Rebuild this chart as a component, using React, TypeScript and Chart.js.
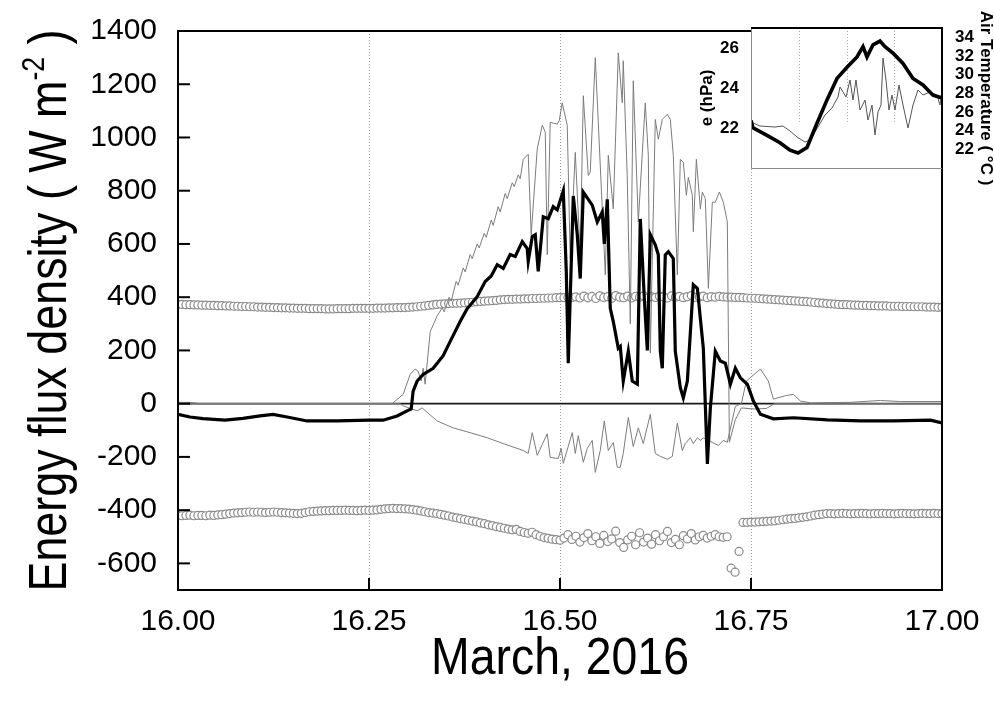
import { useEffect, useRef } from 'react';
import { Chart, registerables } from 'chart.js';

Chart.register(...registerables);

const FONT = '"Liberation Sans", Arial, Helvetica, sans-serif';

// ---------------- main panel data (day of March 2016, W m-2) ----------------
const yTicks = [-600, -400, -200, 0, 200, 400, 600, 800, 1000, 1200, 1400];
const xTicks = [16, 16.25, 16.5, 16.75, 17];
const vGrid = [16.25, 16.5, 16.75];

// thick black line
const hTime = [
  16.0, 16.0157, 16.0327, 16.0616, 16.0851, 16.1074, 16.1244, 16.1428, 16.169, 16.2082,
  16.2515, 16.2685, 16.2868, 16.2999, 16.3052, 16.3078, 16.313, 16.3209, 16.334, 16.3471,
  16.3563, 16.3693, 16.3785, 16.3916, 16.4021, 16.41, 16.4178, 16.4257, 16.4348, 16.4414,
  16.4506, 16.4571, 16.4584, 16.4637, 16.4676, 16.4715, 16.4781, 16.4846, 16.4912, 16.4964,
  16.5043, 16.5082, 16.5108, 16.5174, 16.5226, 16.5265, 16.5305, 16.5422, 16.5488, 16.5553,
  16.558, 16.5619, 16.5658, 16.5697, 16.5763, 16.5789, 16.5828, 16.5894, 16.5946, 16.6012,
  16.6051, 16.6103, 16.6143, 16.6182, 16.6247, 16.6287, 16.6313, 16.6339, 16.6378, 16.6418,
  16.6483, 16.6509, 16.6575, 16.6614, 16.6667, 16.6745, 16.6798, 16.6876, 16.6929, 16.6968,
  16.7033, 16.7099, 16.7164, 16.723, 16.7295, 16.7361, 16.7452, 16.7531, 16.7623, 16.7793,
  16.8055, 16.85, 16.8933, 16.9365, 16.9849, 17.0,
];
const hFlux = [
  -40, -50, -56, -62, -55, -46, -40, -50, -65, -65,
  -62, -62, -46, -27, -20, 47, 85, 110, 133, 180,
  234, 309, 357, 402, 459, 480, 522, 508, 560, 553,
  609, 583, 534, 628, 635, 497, 702, 695, 740, 728,
  800, 500, 152, 780, 635, 470, 795, 746, 683, 720,
  600, 768, 358, 309, 208, 215, 85, 197, 85, 73,
  694, 400, 200, 635, 597, 559, 197, 133, 559, 571,
  545, 197, 60, 22, 85, 447, 433, 208, -226, -16,
  197, 160, 152, 73, 133, 97, 73, 10, -40, -57,
  -53, -61, -65, -65, -62, -72,
];

// thin grey line, positive by day
const rnTime = [
  16.0, 16.0157, 16.0288, 16.2803, 16.2947, 16.3039, 16.3104, 16.3143, 16.3183, 16.3209,
  16.3235, 16.3301, 16.3392, 16.3458, 16.3484, 16.3549, 16.3576, 16.3641, 16.3667, 16.3733,
  16.3759, 16.3824, 16.3851, 16.3916, 16.3942, 16.4008, 16.4034, 16.41, 16.4126, 16.4191,
  16.4217, 16.4283, 16.4309, 16.4375, 16.4401, 16.4453, 16.4479,
  16.4519, 16.4584, 16.4623, 16.4702, 16.4768, 16.4807, 16.4833, 16.4872, 16.4964, 16.499,
  16.5029, 16.5095, 16.5134, 16.52, 16.5265, 16.5305, 16.537, 16.5396, 16.5462, 16.5501,
  16.5593, 16.5632, 16.5697, 16.5763, 16.5815, 16.5828, 16.588, 16.592, 16.5959, 16.6025,
  16.6116, 16.6156, 16.6182, 16.6247, 16.6287, 16.6339, 16.6405, 16.6444, 16.6483, 16.6536,
  16.6575, 16.6614, 16.6654, 16.668, 16.6732, 16.6745, 16.6785, 16.6837, 16.6863, 16.6902,
  16.6942, 16.6994, 16.7033, 16.7086, 16.7138, 16.719, 16.7217, 16.7295, 16.7374, 16.7544,
  16.7701, 16.7806, 17.0,
];
const rnFlux = [
  5, 5, 0, 0, 35, 110, 130, 122, 85, 133,
  73, 270, 330, 360, 345, 400, 385, 460, 445, 510,
  495, 560, 545, 600, 585, 640, 625, 690, 670, 740,
  720, 790, 770, 830, 815, 860, 845,
  918, 937, 635, 957, 1046, 1020, 560, 1057, 1050, 1063,
  1130, 1046, 545, 944, 560, 1157, 857, 870, 1300, 1057,
  484, 933, 732, 1318, 1130, 1288, 857, 300, 1213, 683,
  1130, 933, 190, 1068, 993, 1068, 1087, 1068, 933, 484,
  918, 907, 783, 850, 783, 646, 918, 732, 795, 770,
  433, 757, 757, 795, 757, 683, -145, -60, -16, -20,
  -18, 0, 0,
];

// thin grey line, negative by day
const gTime = [
  16.0, 16.2908, 16.2947, 16.313, 16.3196, 16.3392, 16.3602, 16.3824, 16.4047, 16.4257,
  16.4519, 16.4584, 16.4637, 16.4702, 16.4833, 16.4872, 16.4977, 16.5016, 16.5043, 16.516,
  16.52, 16.5239, 16.5305, 16.5357, 16.5422, 16.5462, 16.5527, 16.558, 16.5632, 16.5697,
  16.575, 16.5789, 16.5828, 16.5894, 16.5959, 16.6025, 16.609, 16.6182, 16.6247, 16.6313,
  16.6405, 16.647, 16.6536, 16.6601, 16.664, 16.6706, 16.6745, 16.6798, 16.6837, 16.6876,
  16.6994, 16.7073, 16.7138, 16.719, 16.7295, 16.7374, 16.7439, 16.7623, 16.7727, 16.7793,
  16.795, 16.8055, 16.8147, 16.8278, 16.8802, 16.9194, 16.9456, 17.0,
];
const gFlux = [
  0, 0, -8, -27, -16, -65, -91, -109, -128, -150,
  -176, -187, -109, -194, -113, -202, -206, -168, -224, -109,
  -187, -120, -220, -168, -138, -258, -176, -65, -176, -146,
  -239, -239, -187, -52, -161, -91, -150, -40, -187, -198,
  -209, -198, -73, -176, -150, -128, -150, -128, -138, -128,
  -146, -157, -138, -145, -10, 0, 85, 130, 85, 17,
  30, 35, 10, 3, 5, 12, 8, 8,
];

// open circles, one value every 7.5 min from 16.00 to 17.00
const circleStart = 16;
const circleStep = 1 / 192;
const lwUpper = [
  373, 373, 372, 372, 371, 371, 370, 370, 369, 369, 368, 368, 367, 367, 366, 366,
  365, 365, 364, 364, 363, 363, 362, 362, 361, 361, 360, 360, 359, 359, 358, 358,
  358, 357, 357, 357, 357, 356, 356, 356, 357, 357, 357, 357, 358, 358, 358, 358, 358,
  358, 359, 359, 359, 360, 360, 361, 361, 361,
  362, 363, 364, 366, 367, 369, 371, 373,
  374, 375, 376, 377, 377, 378, 379, 380,
  381, 383, 384, 385, 386, 387, 388, 390, 391,
  392, 392, 393, 393, 394, 394, 395, 395,
  396, 396, 397, 397, 398, 398, 398, 399, 399,
  401, 397, 404, 398, 403, 395, 405, 399, 402, 396, 406, 400, 398, 404, 397, 403, 400, 405, 396,
  402, 399, 404, 401, 397, 405, 400, 403, 398, 402, 406, 399, 401, 404, 398, 402, 400, 403, 401,
  400, 400, 399, 399, 398, 397, 396, 396, 395,
  394, 393, 392, 391, 390, 389, 388, 387, 386, 385, 384, 383, 382, 380, 379, 378, 376,
  375, 374, 373, 372, 372, 371, 370, 370, 369, 369, 368, 368, 367, 367, 367, 366, 366,
  366, 365, 365, 365, 364, 364, 364, 363, 363, 363, 362, 362,
];
const lwLower = [
  -420, -421, -420, -419, -421, -420, -420, -421, -419, -420, -418, -417, -415, -413, -411,
  -410, -409, -408, -407, -408, -407, -408, -409, -408, -407, -408, -409, -410, -411, -412,
  -413, -412, -409, -406, -405, -404, -403, -402, -402, -401,
  -401, -401, -400, -401, -401, -402, -401, -400, -401, -400, -399, -397,
  -395, -394, -393, -394, -394, -395, -396, -398, -400, -403, -406, -409, -411,
  -413, -416, -419, -422, -426, -429, -432, -435,
  -438, -441, -444, -448, -451, -455, -458, -462, -465,
  -468, -471, -474, -472, -480, -484, -487, -483, -492, -498, -503, -506, -509, -511, -513,
  -505, -492, -510, -498, -520, -503, -488, -515, -500, -525, -495, -518, -508, -479,
  -522, -540, -512, -498, -530, -485, -520, -505, -528, -492, -515, -500, -480, -522,
  -510, -530, -496, -508, -488, -512, -500, -495, -505, -498, -492, -500, -502, -500,
  -618, -633, -555,
  -446, -446, -445, -445, -444, -443, -442, -441, -440, -438, -436, -434, -432,
  -431, -429, -427, -425, -422, -419, -417, -415,
  -413, -413, -414, -413, -412, -413, -414, -413, -413, -412, -413, -414, -413, -413, -412,
  -413, -413, -414, -413, -412, -413, -413, -414, -413, -412, -413, -413, -412, -413, -413,
];

// ---------------- inset data ----------------
const insetETicks = [22, 24, 26];
const insetTTicks = [22, 24, 26, 28, 30, 32, 34];
const taTime = [
  16.0, 16.0105, 16.0838, 16.1518, 16.2042, 16.2461, 16.2932, 16.3455, 16.3979, 16.4503,
  16.5026, 16.555, 16.5864, 16.6073, 16.6387, 16.6754, 16.7016, 16.7435, 16.7958, 16.8482,
  16.9005, 16.9529, 17.0,
];
const taVal = [
  25.1, 24.3, 23.5, 22.7, 21.9, 21.6, 22.2, 24.8, 27.3, 29.6,
  30.8, 31.9, 33.0, 31.9, 33.2, 33.6, 33.0, 32.3, 31.2, 29.6,
  28.9, 27.8, 27.5,
];
const eTime = [
  16.0, 16.0471, 16.1257, 16.1675, 16.2042, 16.2408, 16.2827, 16.3089, 16.3508, 16.3874,
  16.4241, 16.4555, 16.466, 16.4817, 16.4974, 16.5183, 16.534, 16.5497, 16.5707, 16.5969,
  16.6126, 16.6335, 16.6492, 16.6649, 16.6806, 16.6911, 16.7068, 16.7225, 16.7382, 16.7539,
  16.7749, 16.7958, 16.822, 16.8482, 16.8743, 16.9005, 16.9372, 16.9738, 16.9895, 17.0,
];
const eVal = [
  22.3, 22.1, 22.05, 22.1, 21.85, 21.55, 21.3, 21.4, 22.05, 22.65,
  23.0, 23.55, 24.05, 23.8, 23.55, 24.4, 23.4, 24.4, 22.9, 23.4,
  22.4, 23.15, 21.65, 22.8, 23.15, 25.5, 24.4, 22.9, 23.65, 22.9,
  24.15, 23.15, 22.0, 23.15, 23.9, 23.65, 23.8, 23.65, 23.15, 23.8,
];

const zip = (xs: number[], ys: number[]) => xs.map((x, i) => ({ x, y: ys[i] }));
const circles = (ys: number[]) => ys.map((y, i) => ({ x: circleStart + i * circleStep, y }));

const mainDecor = {
  id: 'mainDecor',
  beforeDatasetsDraw(chart: any) {
    const { ctx, chartArea: a, scales } = chart;
    const x = scales.x, y = scales.y;
    ctx.save();
    ctx.strokeStyle = '#9c9c9c';
    ctx.lineWidth = 1;
    ctx.setLineDash([1, 2]);
    for (const v of vGrid) {
      const px = Math.round(x.getPixelForValue(v)) + 0.5;
      ctx.beginPath(); ctx.moveTo(px, a.top); ctx.lineTo(px, a.bottom); ctx.stroke();
    }
    ctx.setLineDash([]);
    const zy = y.getPixelForValue(0);
    ctx.strokeStyle = '#1a1a1a';
    ctx.lineWidth = 1.6;
    ctx.beginPath(); ctx.moveTo(a.left, zy); ctx.lineTo(a.right, zy); ctx.stroke();
    ctx.restore();
  },
  afterDatasetsDraw(chart: any) {
    const { ctx, chartArea: a, scales } = chart;
    const x = scales.x, y = scales.y;
    ctx.save();
    ctx.strokeStyle = '#000';
    ctx.lineWidth = 2;
    ctx.strokeRect(a.left, a.top, a.right - a.left, a.bottom - a.top);
    for (const v of yTicks) {
      const py = y.getPixelForValue(v);
      ctx.beginPath(); ctx.moveTo(a.left, py); ctx.lineTo(a.left + 12, py); ctx.stroke();
    }
    for (const v of vGrid) {
      const px = x.getPixelForValue(v);
      ctx.beginPath(); ctx.moveTo(px, a.bottom); ctx.lineTo(px, a.bottom - 12); ctx.stroke();
    }
    ctx.fillStyle = '#000';
    // y title with superscript
    const p1 = 'Energy flux density ( W m', p2 = '-2', p3 = ' )';
    const big = `54px ${FONT}`, small = `32px ${FONT}`;
    ctx.font = big;
    const w1 = ctx.measureText(p1).width, w3 = ctx.measureText(p3).width;
    ctx.font = small;
    const w2 = ctx.measureText(p2).width;
    const total = w1 + w2 + w3;
    const target = 562;
    ctx.save();
    ctx.translate(66, (a.top + a.bottom) / 2);
    ctx.rotate(-Math.PI / 2);
    ctx.scale(target / total, 1);
    ctx.textBaseline = 'alphabetic';
    const x0 = -total / 2;
    ctx.font = big; ctx.fillText(p1, x0, 0);
    ctx.font = small; ctx.fillText(p2, x0 + w1, -22);
    ctx.font = big; ctx.fillText(p3, x0 + w1 + w2, 0);
    ctx.restore();
    // x title
    ctx.save();
    ctx.font = `52px ${FONT}`;
    const t = 'March, 2016';
    const tw = ctx.measureText(t).width;
    ctx.translate((a.left + a.right) / 2, 674);
    ctx.scale(258 / tw, 1);
    ctx.textBaseline = 'alphabetic';
    ctx.fillText(t, -tw / 2, 0);
    ctx.restore();
    ctx.restore();
  },
};

const insetDecor = {
  id: 'insetDecor',
  beforeDatasetsDraw(chart: any) {
    const { ctx, chartArea: a, scales } = chart;
    const x = scales.x;
    ctx.save();
    ctx.fillStyle = '#fff';
    ctx.fillRect(a.left, a.top, a.right - a.left, a.bottom - a.top);
    ctx.strokeStyle = '#a8a8a8';
    ctx.lineWidth = 1;
    ctx.setLineDash([1, 2]);
    for (const v of vGrid) {
      const px = Math.round(x.getPixelForValue(v)) + 0.5;
      ctx.beginPath(); ctx.moveTo(px, a.top); ctx.lineTo(px, a.top + (a.bottom - a.top) * 0.67); ctx.stroke();
    }
    ctx.restore();
  },
  afterDatasetsDraw(chart: any) {
    const { ctx, chartArea: a } = chart;
    ctx.save();
    ctx.strokeStyle = '#8a8a8a';
    ctx.lineWidth = 1;
    ctx.beginPath();
    ctx.moveTo(a.left + 0.5, a.top); ctx.lineTo(a.left + 0.5, a.bottom + 0.5); ctx.lineTo(a.right, a.bottom + 0.5);
    ctx.stroke();
    ctx.strokeStyle = '#000';
    ctx.lineWidth = 2;
    ctx.beginPath();
    ctx.moveTo(a.left, a.top); ctx.lineTo(a.right, a.top); ctx.lineTo(a.right, a.bottom);
    ctx.stroke();
    ctx.restore();
  },
};

export default function App() {
  const mainRef = useRef<HTMLCanvasElement>(null);
  const insetRef = useRef<HTMLCanvasElement>(null);

  useEffect(() => {
    const main = new Chart(mainRef.current as HTMLCanvasElement, {
      type: 'line',
      data: {
        datasets: [
          { data: zip(hTime, hFlux), borderColor: '#000', borderWidth: 3.2, pointRadius: 0, order: 0 },
          { data: zip(rnTime, rnFlux), borderColor: '#7c7c7c', borderWidth: 1, pointRadius: 0, order: 1 },
          { data: zip(gTime, gFlux), borderColor: '#7c7c7c', borderWidth: 1, pointRadius: 0, order: 2 },
          {
            data: circles(lwUpper), showLine: false, pointRadius: 4, pointBorderWidth: 1.2,
            pointBorderColor: '#8a8a8a', pointBackgroundColor: '#fff', order: 3,
          },
          {
            data: circles(lwLower), showLine: false, pointRadius: 4, pointBorderWidth: 1.2,
            pointBorderColor: '#8a8a8a', pointBackgroundColor: '#fff', order: 4,
          },
        ] as any,
      },
      options: {
        responsive: false,
        animation: false,
        events: [],
        layout: { padding: { top: 28, right: 52, bottom: 0, left: 0 } },
        plugins: { legend: { display: false }, tooltip: { enabled: false } },
        scales: {
          x: {
            type: 'linear', min: 16, max: 17,
            grid: { display: false }, border: { display: false },
            afterBuildTicks: (s: any) => { s.ticks = xTicks.map((v) => ({ value: v })); },
            afterFit: (s: any) => { s.height = 112; },
            ticks: {
              font: { family: FONT, size: 30 }, color: '#000', padding: 6,
              maxRotation: 0, autoSkip: false,
              callback: (v: any) => Number(v).toFixed(2),
            },
          },
          y: {
            type: 'linear', min: -700, max: 1400,
            grid: { display: false }, border: { display: false },
            afterBuildTicks: (s: any) => { s.ticks = yTicks.map((v) => ({ value: v })); },
            afterFit: (s: any) => { s.width = 178; },
            ticks: {
              font: { family: FONT, size: 30 }, color: '#000', padding: 13, autoSkip: false,
              callback: (v: any) => String(v),
            },
          },
        },
      } as any,
      plugins: [mainDecor],
    });

    const inset = new Chart(insetRef.current as HTMLCanvasElement, {
      type: 'line',
      data: {
        datasets: [
          { data: zip(taTime, taVal), yAxisID: 'yR', borderColor: '#000', borderWidth: 3.6, pointRadius: 0, order: 0 },
          { data: zip(eTime, eVal), yAxisID: 'yL', borderColor: '#555', borderWidth: 1, pointRadius: 0, order: 1 },
        ] as any,
      },
      options: {
        responsive: false,
        animation: false,
        events: [],
        layout: { padding: { top: 28, right: 0, bottom: 32, left: 0 } },
        plugins: { legend: { display: false }, tooltip: { enabled: false } },
        scales: {
          x: { type: 'linear', min: 16, max: 17, display: false },
          yL: {
            type: 'linear', position: 'left', min: 20, max: 27,
            grid: { display: false }, border: { display: false },
            afterBuildTicks: (s: any) => { s.ticks = insetETicks.map((v) => ({ value: v })); },
            afterFit: (s: any) => { s.width = 61; },
            ticks: { font: { family: FONT, size: 17, weight: 'bold' }, color: '#000', padding: 4, autoSkip: false },
            title: {
              display: true, text: 'e (hPa)', color: '#000',
              font: { family: FONT, size: 17, weight: 'bold', lineHeight: 1 }, padding: { top: 9, bottom: 0 },
            },
          },
          yR: {
            type: 'linear', position: 'right', min: 20, max: 35,
            grid: { display: false }, border: { display: false },
            afterBuildTicks: (s: any) => { s.ticks = insetTTicks.map((v) => ({ value: v })); },
            afterFit: (s: any) => { s.width = 52; },
            ticks: { font: { family: FONT, size: 17, weight: 'bold' }, color: '#000', padding: 5, autoSkip: false },
            title: {
              display: true, text: 'Air Temperature ( °C )', color: '#000',
              font: { family: FONT, size: 17, weight: 'bold', lineHeight: 1 }, padding: { top: 0, bottom: 0 },
            },
          },
        },
      } as any,
      plugins: [insetDecor],
    });

    return () => { main.destroy(); inset.destroy(); };
  }, []);

  return (
    <div style={{ position: 'absolute', left: 0, top: 0, width: 994, height: 702, background: '#fff' }}>
      <canvas ref={mainRef} width={994} height={702} style={{ position: 'absolute', left: 0, top: 0 }} />
      <canvas ref={insetRef} width={304} height={200} style={{ position: 'absolute', left: 690, top: 0 }} />
    </div>
  );
}
